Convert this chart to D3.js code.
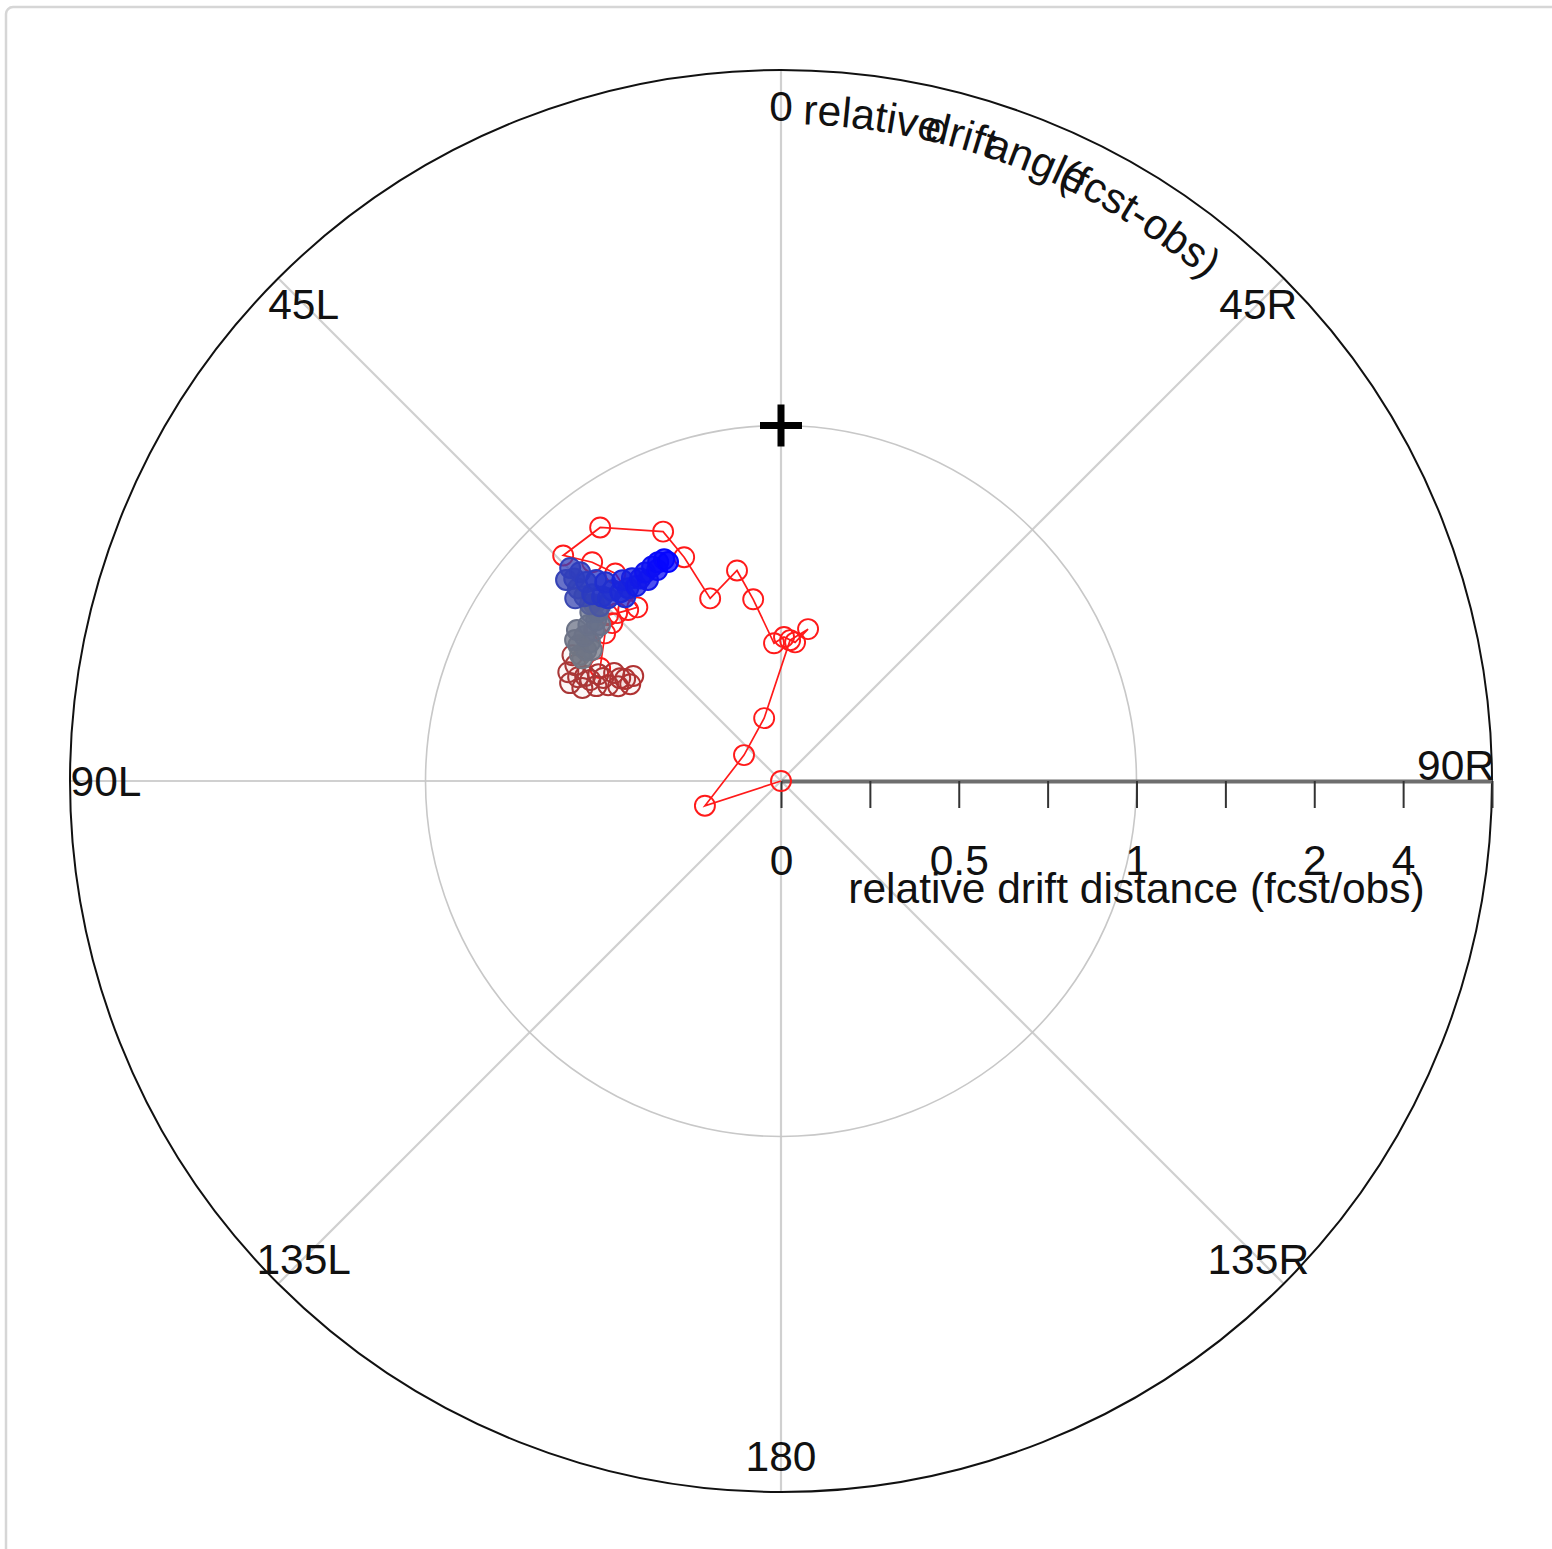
<!DOCTYPE html>
<html>
<head>
<meta charset="utf-8">
<script src="https://cdn.jsdelivr.net/npm/d3@7"></script>
<style>
  html, body { margin: 0; padding: 0; background: #fff; }
  svg text { font-family: "Liberation Sans", Arial, sans-serif; fill: #111; }
</style>
</head>
<body>
<div id="chart"></div>
<script>
// angles in degrees (negative = L, positive = R), distances relative (fcst/obs)
let angleLabels = ["0", "45R", "90R", "135R", "180", "135L", "90L", "45L"]
let spokeAngles = [0, 45, 90, 135, 180, 225, 270, 315]
let distTicks = [0, 0.5, 1, 2, 4]
let titleWords = ["relative", "drift", "angle", "(fcst-obs)"]
let titleWordAngles = [1.9, 12.5, 17.9, 24.8]

let redAngle = [0, -108, -55, -15, 3.7, 10.1, 5.8, 1.2, -2.9, -8.7, -11.8, -21.2, -23.4, -25.3,
    -35.5, -44.0, -40.8, -38.6, -39.6, -41.8, -44.3, -46.2, -46.9, -50.0, -58.0]
let redDist = [0, 0.225, 0.127, 0.183, 0.397, 0.434, 0.392, 0.405, 0.388, 0.517, 0.605, 0.551, 0.686, 0.776,
    0.876, 0.882, 0.813, 0.747, 0.634, 0.645, 0.660, 0.674, 0.650, 0.646, 0.600]

// track: brown part, grey part, blue part
let trackAngle = [-57.3, -54.6, -56.8, -59.8, -57.4, -57.1, -61.0, -59.9, -62.8, -59.7, -62.1, -64.9, -61.8,
    -62.9, -65.1, -62.9, -60.6, -58.9,
    -58.3, -57.9, -56.2, -55.3, -56.1, -55.6, -54.0, -53.6, -53.5, -51.1, -51.0, -49.2, -49.0, -48.5, -47.3, -46.6,
    -47.2, -46.0, -46.8, -48.4, -46.5, -46.9, -45.6, -44.7, -43.9, -44.4, -45.3, -42.6, -44.1, -43.4, -41.5,
    -41.5, -40.3, -40.4, -38.4, -38.3, -36.3, -36.6, -34.8, -33.5, -33.1, -31.0, -30.4, -29.3, -27.8, -27.3]
let trackDist = [0.504, 0.510, 0.524, 0.530, 0.537, 0.559, 0.556, 0.578, 0.584, 0.595, 0.607, 0.617, 0.625,
    0.641, 0.654, 0.672, 0.664, 0.685,
    0.657, 0.667, 0.686, 0.647, 0.660, 0.702, 0.664, 0.687, 0.714, 0.675, 0.697, 0.672, 0.689, 0.716, 0.701, 0.723,
    0.732, 0.708, 0.759, 0.774, 0.787, 0.828, 0.814, 0.843, 0.815, 0.783, 0.747, 0.768, 0.723, 0.708, 0.716,
    0.746, 0.678, 0.697, 0.692, 0.720, 0.708, 0.683, 0.694, 0.678, 0.700, 0.704, 0.688, 0.706, 0.705, 0.693]

let width = 1552
let height = 1549
let cx = 781
let cy = 781
let outerR = 711
let fontSize = 42.5

let svg = d3.select("#chart")
    .append("svg")
    .attr("width", width)
    .attr("height", height)

// panel frame, only top/left edges show
svg.append("rect")
    .attr("x", 6).attr("y", 7)
    .attr("width", 1600).attr("height", 1600)
    .attr("rx", 7)
    .attr("fill", "#fff")
    .attr("stroke", "#d6d6d6")
    .attr("stroke-width", 2.5)

// relative distance: linear up to 1, then 2 - 1/d out to infinity
function toPos(d){
    return d <= 1 ? d : 2 - 1 / d
}
let rScale = d3.scaleLinear().domain([0, 2]).range([0, outerR])

function point(angle, dist){
    let a = angle * Math.PI / 180
    let r = rScale(toPos(dist))
    return [cx + r * Math.sin(a), cy - r * Math.cos(a)]
}

let g = svg.append("g")

// spokes
g.selectAll(".spoke").data(spokeAngles).enter()
    .append("line")
    .attr("x1", cx).attr("y1", cy)
    .attr("x2", d => cx + outerR * Math.sin(d * Math.PI / 180))
    .attr("y2", d => cy - outerR * Math.cos(d * Math.PI / 180))
    .attr("stroke", "#d0d0d0")
    .attr("stroke-width", 2.2)

// unit circle
g.append("circle")
    .attr("cx", cx).attr("cy", cy)
    .attr("r", rScale(toPos(1)))
    .attr("fill", "none")
    .attr("stroke", "#c8c8c8")
    .attr("stroke-width", 1.6)

// outer circle
g.append("circle")
    .attr("cx", cx).attr("cy", cy)
    .attr("r", outerR)
    .attr("fill", "none")
    .attr("stroke", "#111")
    .attr("stroke-width", 2)

// radial axis along 90R
let posTicks = d3.range(0, 2.001, 0.25)
let labelFor = {}
distTicks.forEach(d => { labelFor[toPos(d).toFixed(2)] = d })

let rAxis = d3.axisBottom(rScale)
    .tickValues(posTicks)
    .tickSizeInner(27)
    .tickSizeOuter(0)
    .tickPadding(37)
    .tickFormat(p => labelFor[p.toFixed(2)] !== undefined ? labelFor[p.toFixed(2)] : "")

let axisG = svg.append("g")
    .attr("transform", `translate(${cx}, ${cy})`)
    .call(rAxis)

axisG.select(".domain").attr("stroke", "#6e6e6e").attr("stroke-width", 4)
axisG.selectAll(".tick line").attr("stroke", "#333").attr("stroke-width", 2)
axisG.selectAll(".tick text")
    .attr("font-size", fontSize)
    .attr("font-family", "Liberation Sans, Arial, sans-serif")
    .attr("fill", "#111")

svg.append("text")
    .attr("x", cx + rScale(1))
    .attr("y", cy + 122)
    .attr("text-anchor", "middle")
    .attr("font-size", fontSize)
    .text("relative drift distance (fcst/obs)")

// angle labels
let labelR = 675
svg.selectAll(".angleLabel").data(spokeAngles).enter()
    .append("text")
    .attr("x", d => cx + labelR * Math.sin(d * Math.PI / 180))
    .attr("y", d => d === 90 ? cy : cy - labelR * Math.cos(d * Math.PI / 180))
    .attr("dy", d => d === 90 ? "-0.02em" : "0.36em")
    .attr("text-anchor", "middle")
    .attr("font-size", fontSize)
    .text((d, i) => angleLabels[i])

// curved angle title
let titleR = 657
svg.append("path")
    .attr("id", "titleArc")
    .attr("d", `M ${cx} ${cy - titleR} A ${titleR} ${titleR} 0 0 1 ${cx + titleR} ${cy}`)
    .attr("fill", "none")

svg.selectAll(".titleWord").data(titleWords).enter()
    .append("text")
    .attr("font-size", fontSize)
    .append("textPath")
    .attr("href", "#titleArc")
    .attr("startOffset", (d, i) => titleR * titleWordAngles[i] * Math.PI / 180)
    .text(d => d)

// perfect forecast marker
let ideal = point(0, 1)
svg.append("path")
    .attr("d", `M ${ideal[0] - 21} ${ideal[1]} H ${ideal[0] + 21} M ${ideal[0]} ${ideal[1] - 21} V ${ideal[1] + 21}`)
    .attr("stroke", "#000")
    .attr("stroke-width", 7)

// red series
let redPts = redAngle.map((a, i) => point(a, redDist[i]))

svg.append("path")
    .datum(redPts)
    .attr("d", d3.line())
    .attr("fill", "none")
    .attr("stroke", "#ff1a1a")
    .attr("stroke-width", 1.7)

svg.selectAll(".redDot").data(redPts).enter()
    .append("circle")
    .attr("cx", d => d[0])
    .attr("cy", d => d[1])
    .attr("r", 10)
    .attr("fill", "none")
    .attr("stroke", "#ff1a1a")
    .attr("stroke-width", 1.9)

// coloured track, drawn over the red series
let trackPts = trackAngle.map((a, i) => point(a, trackDist[i]))
let n = trackPts.length
let brownEnd = 17
let trackColor = d3.scaleLinear()
    .domain([0, brownEnd, brownEnd + 1, 33, 36, 48, n - 1])
    .range(["#b03232", "#a83838", "#737782", "#656f8c", "#3b49ae", "#2232cc", "#0505ff"])

svg.selectAll(".trackDot").data(trackPts).enter()
    .append("circle")
    .attr("cx", d => d[0])
    .attr("cy", d => d[1])
    .attr("r", 10)
    .attr("fill", (d, i) => trackColor(i))
    .attr("fill-opacity", (d, i) => i <= brownEnd ? 0.04 : 0.75)
    .attr("stroke", (d, i) => trackColor(i))
    .attr("stroke-width", 2)
</script>
</body>
</html>
